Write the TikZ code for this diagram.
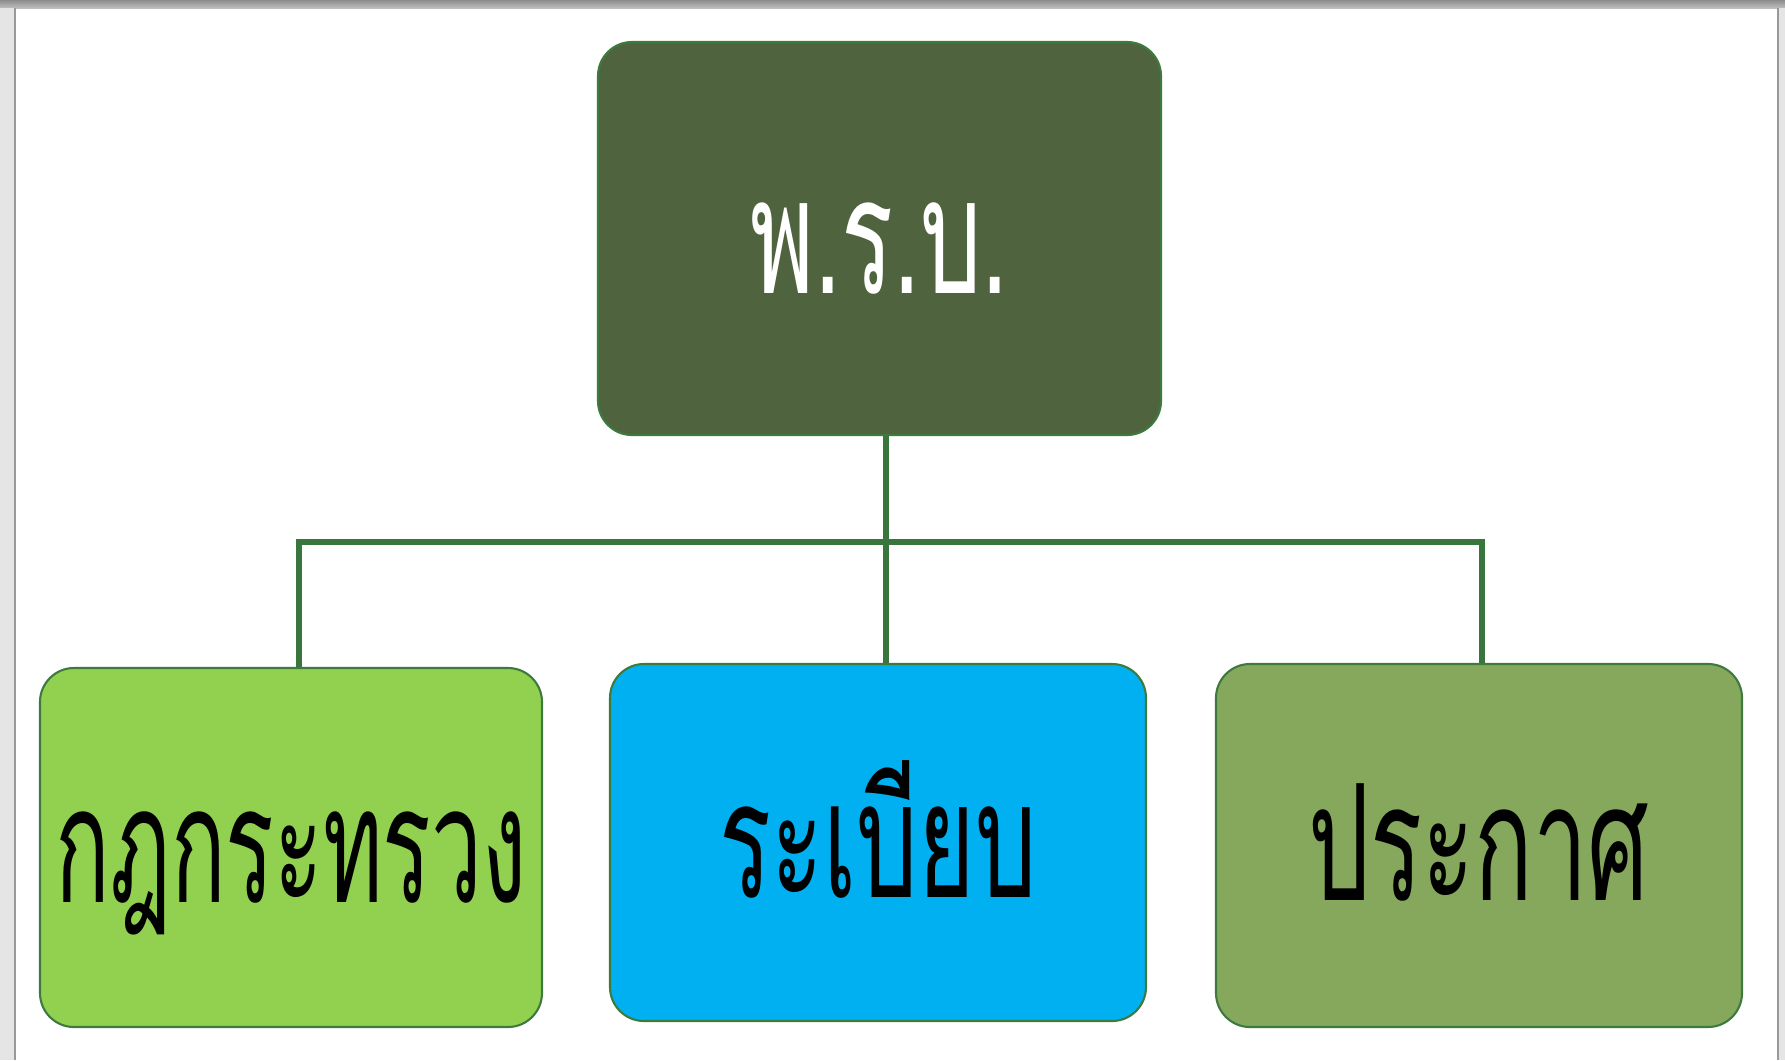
\documentclass[tikz,border=0pt]{standalone}
\usepackage{fontspec}
\newfontfamily\thaifont[Script=Thai,FakeStretch=0.6]{Loma}
\newfontfamily\thaitight[Script=Thai,FakeStretch=0.56]{Loma}

\begin{document}
\begin{tikzpicture}[x=0.2mm,y=-0.2mm]
\definecolor{actcol}{RGB}{80,99,63}
\definecolor{minicol}{RGB}{146,208,80}
\definecolor{rulecol}{RGB}{0,176,240}
\definecolor{anncol}{RGB}{133,168,93}
\definecolor{edgecol}{RGB}{62,122,62}
\definecolor{linkcol}{RGB}{56,118,62}
\tikzstyle{box}=[rounded corners=6.8mm,draw=edgecol,line width=1.2pt,inner sep=0pt,
  text height=22mm,text depth=0mm,
  font=\thaifont\fontsize{92}{100}\selectfont]
\tikzset{
link/.style={linkcol,line width=3.2pt},
}
\def\u{0.2mm}   % one pixel of the reference

\useasboundingbox (0,0) rectangle (1785,1060);

% PAGE AND FRAME
\fill[white] (0,0) rectangle (1785,1060);
\shade[top color=black!45,bottom color=black!25] (0,0) rectangle (1785,8);
\fill[black!10] (0,8) rectangle (15,1060);
\draw[black!40,line width=1pt] (15,8) -- (15,1060);
\fill[black!10] (1778,8) rectangle (1785,1060);
\draw[black!40,line width=1pt] (1778,8) -- (1778,1060);

% BOXES
\node[box,fill=actcol,text=white,minimum width={563*\u},minimum height={393*\u}]
  (act) at (879.5,238.5) {พ.ร.บ.};
\node[box,fill=minicol,minimum width={502*\u},minimum height={359*\u},
  font=\thaitight\fontsize{92}{100}\selectfont]
  (mini) at (291,847.5) {กฎกระทรวง};
\node[box,fill=rulecol,minimum width={536*\u},minimum height={357*\u}]
  (rule) at (878,842.5) {ระเบียบ};
\node[box,fill=anncol,minimum width={526*\u},minimum height={363*\u}]
  (ann) at (1479,845.5) {ประกาศ};

% CONNECTORS
\coordinate (bar) at (886,542);
\coordinate (lft) at (299,542);
\coordinate (rgt) at (1482,542);
\draw[link] (act.south -| bar) -- (rule.north -| bar);
\draw[link] (lft |- mini.north) -- (lft) -- (rgt) -- (rgt |- ann.north);
\end{tikzpicture}
\end{document}
